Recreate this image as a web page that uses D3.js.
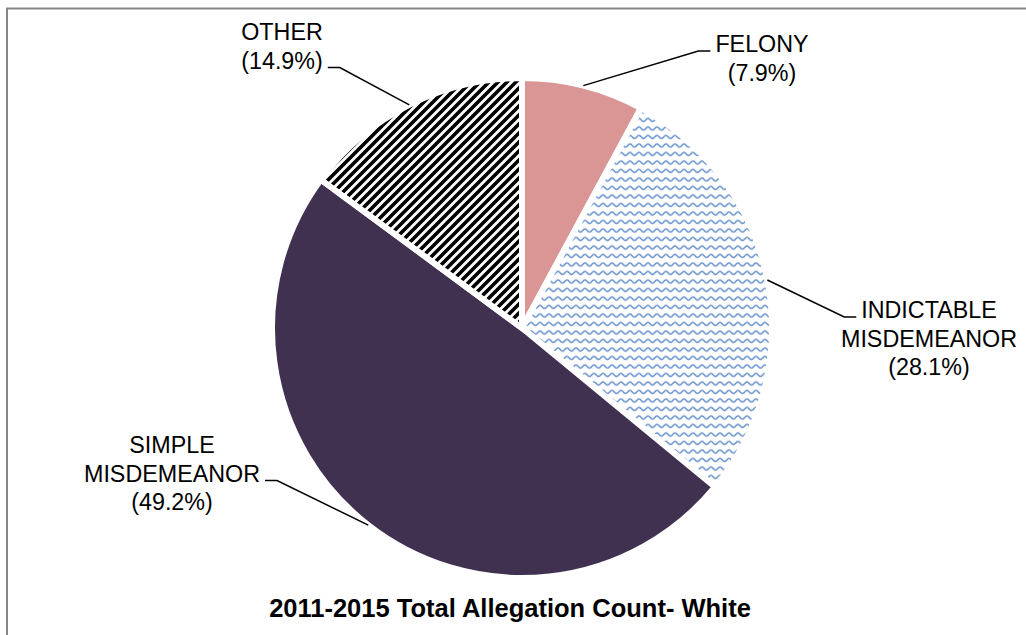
<!DOCTYPE html>
<html>
<head>
<meta charset="utf-8">
<script src="https://cdn.jsdelivr.net/npm/d3@7"></script>
<style>
  body { margin: 0; background: #fff; }
  svg { display: block; font-family: "Liberation Sans", Arial, sans-serif; }
</style>
</head>
<body>
<div id="chart"></div>
<script>
// data
const categories = ["FELONY", "INDICTABLE MISDEMEANOR", "SIMPLE MISDEMEANOR", "OTHER"];
const shares = [7.9, 28.1, 49.2, 14.9];
const labelLines = [["FELONY"], ["INDICTABLE", "MISDEMEANOR"], ["SIMPLE", "MISDEMEANOR"], ["OTHER"]];
const title = "2011-2015 Total Allegation Count- White";

const width = 1026, height = 635;
const cx = 522, cy = 328, radius = 250;
const lineGap = 28.5;

// label anchor (relative to pie centre), side the leader attaches, line the leader meets
const labelPos = [
    { x: 240, y: -276, side: "left", row: 0 },
    { x: 407, y: -10, side: "left", row: 0 },
    { x: -350, y: 125, side: "right", row: 1 },
    { x: -240, y: -288, side: "right", row: 1 }
];

const svg = d3.select("#chart")
    .append("svg")
    .attr("width", width)
    .attr("height", height);

// chart border (runs off right and bottom)
svg.append("rect")
    .attr("x", 7)
    .attr("y", 8.5)
    .attr("width", width + 20)
    .attr("height", height + 20)
    .attr("fill", "#fff")
    .attr("stroke", "#878787")
    .attr("stroke-width", 2);

const defs = svg.append("defs");

// wave pattern for indictable
const wave = defs.append("pattern")
    .attr("id", "wave")
    .attr("patternUnits", "userSpaceOnUse")
    .attr("width", 9)
    .attr("height", 8.5);
wave.append("rect").attr("width", 9).attr("height", 8.5).attr("fill", "#fff");
wave.append("path")
    .attr("d", "M0,5 C1.5,5 1.5,2 2.25,2 C3,2 3,5 4.5,5 C6,5 6,2 6.75,2 C7.5,2 7.5,5 9,5")
    .attr("d", "M0,5 Q2.25,0 4.5,3.5 Q6.75,7 9,2")
    .attr("d", "M0,3 C2,3 2.5,6 4.5,6 C6.5,6 7,3 9,3")
    .attr("fill", "none")
    .attr("stroke", "#6d96cf")
    .attr("stroke-width", 1.7);

// diagonal stripes for other
const stripe = defs.append("pattern")
    .attr("id", "stripe")
    .attr("patternUnits", "userSpaceOnUse")
    .attr("width", 9)
    .attr("height", 9);
stripe.append("rect").attr("width", 9).attr("height", 9).attr("fill", "#fff");
stripe.append("path")
    .attr("d", "M-1,10 L10,-1 M-3,3 L3,-3 M6,12 L12,6")
    .attr("stroke", "#000")
    .attr("stroke-width", 3.6);

const fills = ["#d99694", "url(#wave)", "#403151", "url(#stripe)"];

const pie = d3.pie().sort(null).value(d => d);
const arcs = pie(shares);
const arc = d3.arc().innerRadius(0).outerRadius(radius);

const g = svg.append("g").attr("transform", `translate(${cx},${cy})`);

g.selectAll(".slice")
    .data(arcs)
    .enter()
    .append("path")
    .attr("class", "slice")
    .attr("d", arc)
    .attr("fill", (d, i) => fills[i])
    .attr("stroke", "#fff")
    .attr("stroke-width", 6)
    .attr("stroke-linejoin", "miter");

// labels
const rowSpans = [];
arcs.forEach((d, i) => {
    const lp = labelPos[i];
    const lines = labelLines[i].concat([`(${shares[i].toFixed(1)}%)`]);
    const t = g.append("text")
        .attr("x", lp.x)
        .attr("y", lp.y)
        .attr("text-anchor", "middle")
        .attr("font-size", 23.3)
        .attr("fill", "#000");
    const spans = [];
    lines.forEach((s, k) => {
        spans.push(t.append("tspan")
            .attr("x", lp.x)
            .attr("dy", k === 0 ? 0 : lineGap)
            .text(s));
    });
    rowSpans.push(spans);
});

// leader lines
arcs.forEach((d, i) => {
    const mid = (d.startAngle + d.endAngle) / 2;
    const px = Math.sin(mid) * radius;
    const py = -Math.cos(mid) * radius;
    const lp = labelPos[i];
    const lineY = lp.y + lineGap * lp.row - 1;
    const tw = rowSpans[i][lp.row].node().getComputedTextLength() / 2;
    const dir = lp.side === "left" ? -1 : 1;
    const hx = lp.x + dir * (tw + 5);
    g.append("polyline")
        .attr("points", [[px, py], [hx + dir * 12, lineY], [hx, lineY]].map(p => p.join(",")).join(" "))
        .attr("fill", "none")
        .attr("stroke", "#000")
        .attr("stroke-width", 1.5);
});

svg.append("text")
    .attr("x", 510)
    .attr("y", 617)
    .attr("text-anchor", "middle")
    .attr("font-size", 25.5)
    .attr("font-weight", "bold")
    .attr("fill", "#000")
    .text(title);
</script>
</body>
</html>
